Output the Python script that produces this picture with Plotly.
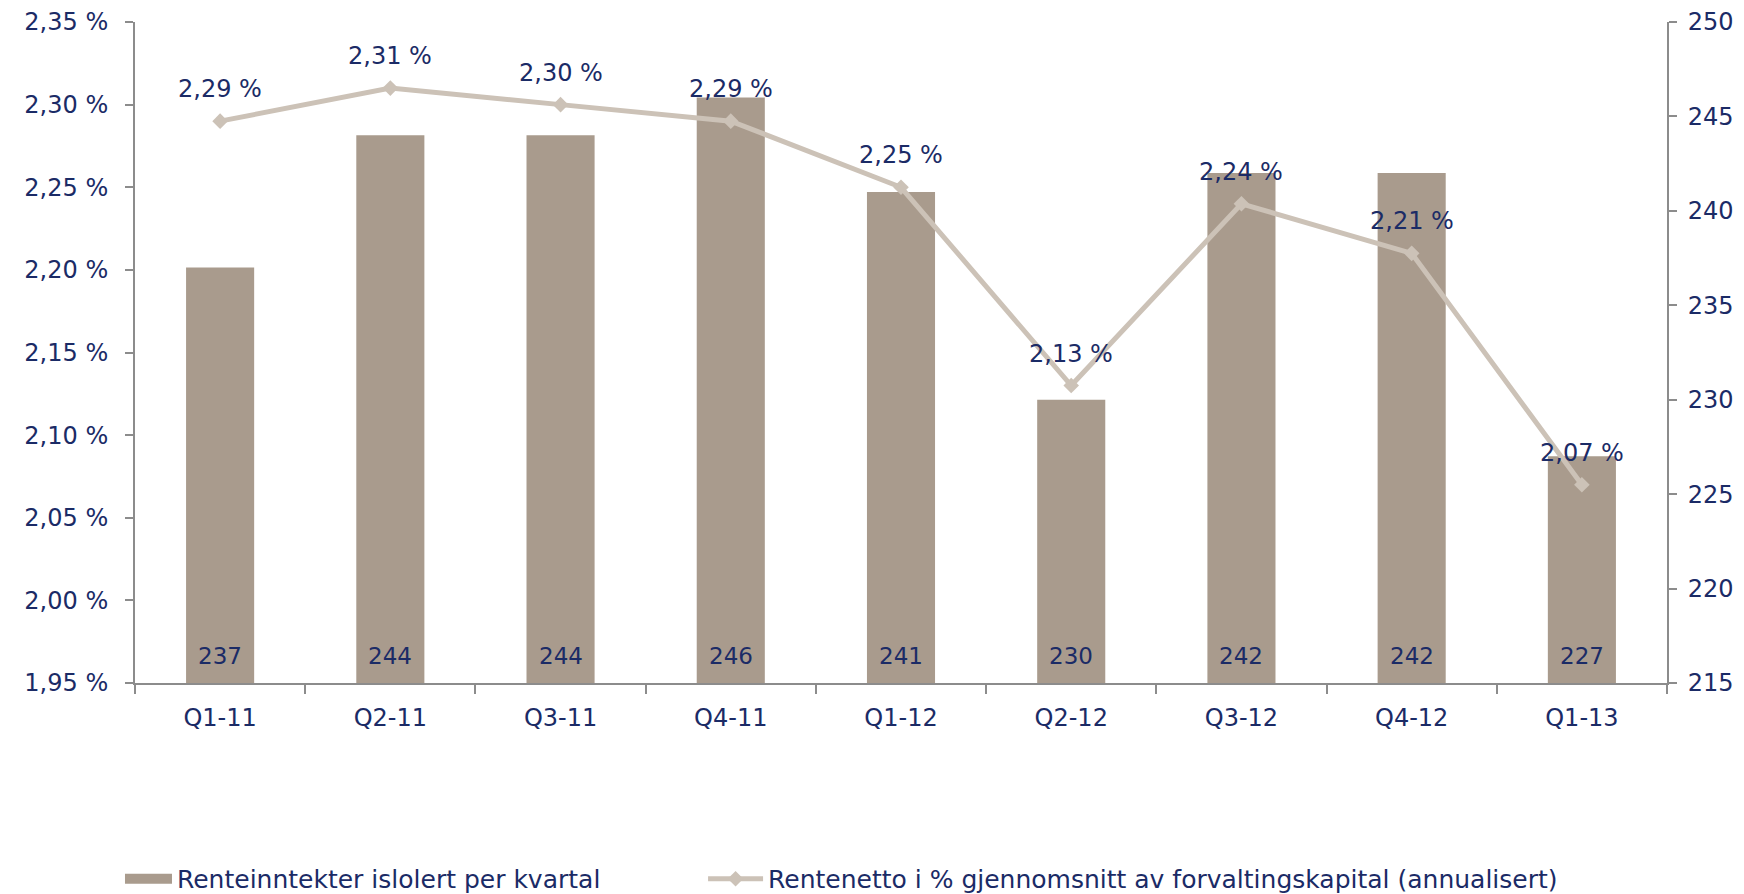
import plotly.graph_objects as go

categories = ["Q1-11", "Q2-11", "Q3-11", "Q4-11", "Q1-12", "Q2-12", "Q3-12", "Q4-12", "Q1-13"]
bar_values = [237, 244, 244, 246, 241, 230, 242, 242, 227]
line_values = [2.29, 2.31, 2.30, 2.29, 2.25, 2.13, 2.24, 2.21, 2.07]
line_labels = ["2,29 %", "2,31 %", "2,30 %", "2,29 %", "2,25 %", "2,13 %", "2,24 %", "2,21 %", "2,07 %"]
bar_name = "Renteinntekter islolert per kvartal"
line_name = "Rentenetto i % gjennomsnitt av forvaltingskapital (annualisert)"

NAVY = "#1B2B66"
BAR = "#A99B8D"
LINE = "#CCC2B7"
AXIS = "#8C8C8C"
FONT = "DejaVu Sans"
base_val = 215

fig = go.Figure()
# legend entry for bars (wide rectangle symbol)
fig.add_trace(go.Scatter(x=[categories[0]], y=[None], mode="lines", name=bar_name,
                         line=dict(color=BAR, width=16), yaxis="y", hoverinfo="skip",
                         legend="legend"))
fig.add_trace(go.Bar(
    x=categories, y=[v - base_val for v in bar_values], base=base_val,
    name=bar_name, marker=dict(color=BAR, line=dict(width=0)),
    width=0.4, yaxis="y", showlegend=False,
))
fig.add_trace(go.Scatter(
    x=categories, y=line_values, name=line_name, mode="lines+markers",
    line=dict(color=LINE, width=5), marker=dict(symbol="diamond", size=12, color=LINE),
    yaxis="y2", legend="legend2",
))
for c, v in zip(categories, bar_values):
    fig.add_annotation(x=c, y=base_val, yref="y", text=str(v), showarrow=False,
                       yshift=27, font=dict(color=NAVY, size=23, family=FONT))
for c, v, t in zip(categories, line_values, line_labels):
    fig.add_annotation(x=c, y=v, yref="y2", text=t, showarrow=False,
                       yshift=32, font=dict(color=NAVY, size=24, family=FONT))

leg_common = dict(orientation="h", xanchor="left", y=-0.2965, yanchor="middle",
                  font=dict(size=25, color=NAVY, family=FONT),
                  bgcolor="rgba(0,0,0,0)")
fig.update_layout(
    width=1744, height=894,
    paper_bgcolor="white", plot_bgcolor="white",
    margin=dict(l=135, r=77, t=22, b=211, autoexpand=False),
    separators=", ",
    font=dict(family=FONT, size=22, color=NAVY),
    showlegend=True,
    legend=dict(x=-0.0098, itemwidth=47, **leg_common),
    legend2=dict(x=0.3708, itemwidth=55, **leg_common),
    xaxis=dict(type="category", categoryorder="array", categoryarray=categories,
               showline=True, linecolor=AXIS, linewidth=2, ticks="outside",
               tickson="boundaries", ticklen=9, tickcolor=AXIS, tickwidth=2,
               showgrid=False, tickfont=dict(size=24, color=NAVY),
               ticklabelstandoff=12),
    yaxis=dict(range=[215, 250], dtick=5, side="right",
               showline=True, linecolor=AXIS, linewidth=2, ticks="outside",
               ticklen=8, tickcolor=AXIS, tickwidth=2, showgrid=False, zeroline=False,
               tickfont=dict(size=24, color=NAVY), ticklabelstandoff=6),
    yaxis2=dict(range=[1.95, 2.35], dtick=0.05, tickformat=".2f", ticksuffix=" %",
                overlaying="y", side="left",
                showline=True, linecolor=AXIS, linewidth=2, ticks="outside",
                ticklen=8, tickcolor=AXIS, tickwidth=2, showgrid=False, zeroline=False,
                tickfont=dict(size=24, color=NAVY), ticklabelstandoff=12),
)
fig.write_html("out.html", config={"displayModeBar": False},
               post_script="document.body.style.margin='0';document.body.style.overflow='hidden';")
